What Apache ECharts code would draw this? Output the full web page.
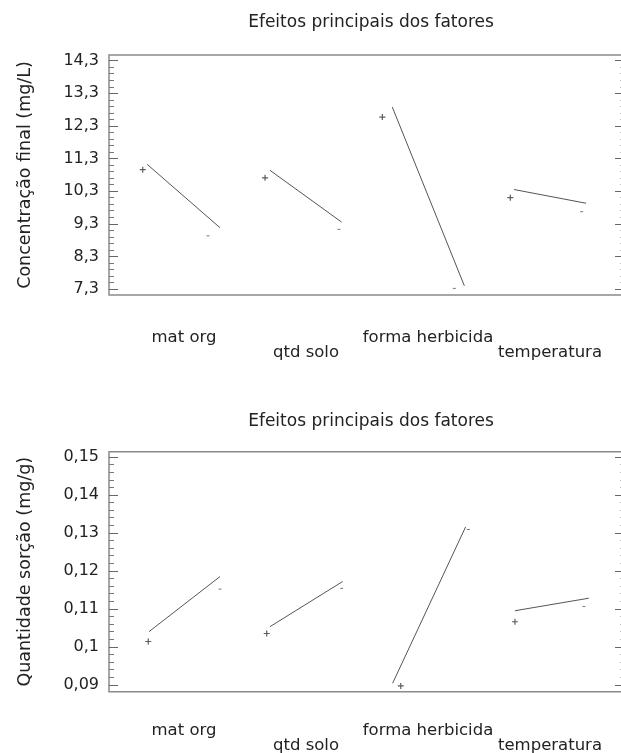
<!DOCTYPE html>
<html>
<head>
<meta charset="utf-8">
<script src="https://cdn.jsdelivr.net/npm/echarts@6/dist/echarts.min.js"></script>
<style>
  html, body { margin: 0; padding: 0; background: #fff; }
  #chart { width: 621px; height: 753px; }
</style>
</head>
<body>
<div id="chart"></div>
<script>
// ---------------- dados ----------------
var factors = ['mat org', 'qtd solo', 'forma herbicida', 'temperatura'];

// painel 1: Concentração final (mg/L)  [x, y]
var concLineStart = [[0.297, 11.12], [1.25, 10.94], [2.20, 12.88], [3.146, 10.35]];
var concLineEnd   = [[0.862, 9.18], [1.807, 9.35], [2.76, 7.40], [3.705, 9.93]];
var concPlus      = [[0.262, 10.96], [1.212, 10.71], [2.123, 12.57], [3.117, 10.10]];
var concMinus     = [[0.769, 8.93], [1.786, 9.13], [2.682, 7.32], [3.671, 9.67]];
var concTicks     = [7.3, 8.3, 9.3, 10.3, 11.3, 12.3, 13.3, 14.3];

// painel 2: Quantidade sorção (mg/g)
var sorpLineStart = [[0.311, 0.1040], [1.25, 0.1053], [2.203, 0.0904], [3.153, 0.1095]];
var sorpLineEnd   = [[0.862, 0.1185], [1.815, 0.1172], [2.770, 0.1316], [3.726, 0.1128]];
var sorpPlus      = [[0.305, 0.1014], [1.225, 0.1035], [2.266, 0.0897], [3.153, 0.1066]];
var sorpMinus     = [[0.862, 0.1152], [1.807, 0.1154], [2.791, 0.1309], [3.689, 0.1106]];
var sorpTicks     = [0.09, 0.10, 0.11, 0.12, 0.13, 0.14, 0.15];

// ---------------- estilos ----------------
var FONT = 'DejaVu Sans';
var TXT = '#222';
var plusPath = 'path://M2,0H3V2H5V3H3V5H2V3H0V2H2Z';
var minusPath = 'path://M0,0H4V1H0Z';

function minorOf(ticks, n) {
  var out = [];
  for (var i = 0; i < ticks.length - 1; i++) {
    var step = (ticks[i + 1] - ticks[i]) / n;
    for (var k = 1; k < n; k++) out.push(ticks[i] + step * k);
  }
  return out;
}

var grids = [], xAxes = [], yAxes = [], series = [], titles = [];

function panel(top, titleTop, labelMargin, name, min, max, ticks, dec, starts, ends, plus, minus) {
  var g0 = grids.length;
  grids.push({ left: 109, width: 515, top: top, height: 240, show: true, outerBoundsMode: 'none',
               borderColor: '#8a8a8a', borderWidth: 1.5, backgroundColor: 'transparent' });
  grids.push({ left: 123, width: 488, top: top, height: 240, outerBoundsMode: 'none' });

  var fmt = function (v) { return String(+v.toFixed(dec)).replace('.', ','); };
  var minor = minorOf(ticks, 5);
  var yBase = yAxes.length;

  yAxes.push({
    gridIndex: g0, type: 'value', position: 'left', min: min, max: max,
    name: name, nameLocation: 'middle', nameGap: 75,
    nameTextStyle: { fontFamily: FONT, fontSize: 17.5, color: TXT },
    axisLine: { show: false }, splitLine: { show: false },
    axisTick: { inside: true, length: 9, customValues: ticks, lineStyle: { color: '#666' } },
    axisLabel: { customValues: ticks, formatter: fmt, margin: 10,
                 fontFamily: FONT, fontSize: 16, color: TXT }
  });
  yAxes.push({
    gridIndex: g0, type: 'value', position: 'left', min: min, max: max,
    axisLine: { show: false }, splitLine: { show: false }, axisLabel: { show: false },
    axisTick: { inside: true, length: 5, customValues: minor, lineStyle: { color: '#777' } }
  });
  yAxes.push({
    gridIndex: g0, type: 'value', position: 'right', min: min, max: max,
    axisLine: { show: false }, splitLine: { show: false }, axisLabel: { show: false },
    axisTick: { inside: true, length: 9, customValues: ticks, lineStyle: { color: '#666' } }
  });
  yAxes.push({
    gridIndex: g0, type: 'value', position: 'right', min: min, max: max,
    axisLine: { show: false }, splitLine: { show: false }, axisLabel: { show: false },
    axisTick: { inside: true, length: 4, customValues: minor, lineStyle: { color: '#bbb' } }
  });
  yAxes.push({ gridIndex: g0 + 1, type: 'value', show: false });

  var xBase = xAxes.length;
  xAxes.push({ gridIndex: g0, type: 'value', min: 0, max: 4, show: false });
  xAxes.push({
    gridIndex: g0 + 1, type: 'category', data: factors,
    axisLine: { show: false }, axisTick: { show: false }, splitLine: { show: false },
    axisLabel: {
      margin: labelMargin, interval: 0,
      formatter: function (v, i) { return (i % 2 ? '{lo|' : '{hi|') + v + '}'; },
      rich: {
        hi: { fontFamily: FONT, fontSize: 16.5, color: TXT },
        lo: { fontFamily: FONT, fontSize: 16.5, color: TXT, padding: [15, 0, 0, 0] }
      }
    }
  });

  for (var i = 0; i < factors.length; i++) {
    series.push({
      type: 'line', xAxisIndex: xBase, yAxisIndex: yBase, data: [starts[i], ends[i]],
      symbol: 'none', silent: true, lineStyle: { color: '#555', width: 1 }
    });
  }
  series.push({
    type: 'scatter', xAxisIndex: xBase, yAxisIndex: yBase, data: plus,
    symbol: plusPath, symbolSize: [6, 6], itemStyle: { color: '#333' }
  });
  series.push({
    type: 'scatter', xAxisIndex: xBase, yAxisIndex: yBase, data: minus,
    symbol: minusPath, symbolSize: [3, 1], itemStyle: { color: '#555' }
  });

  titles.push({
    text: 'Efeitos principais dos fatores', left: 366, top: titleTop, textAlign: 'center',
    textStyle: { fontFamily: FONT, fontSize: 17, fontWeight: 'normal', color: TXT }
  });
}

panel(55, 9, 34, 'Concentração final (mg/L)', 7.117, 14.474, concTicks, 1,
      concLineStart, concLineEnd, concPlus, concMinus);
panel(451.7, 408, 31, 'Quantidade sorção (mg/g)', 0.08817, 0.1514, sorpTicks, 2,
      sorpLineStart, sorpLineEnd, sorpPlus, sorpMinus);

var option = {
  backgroundColor: '#fff',
  animation: false,
  title: titles,
  grid: grids,
  xAxis: xAxes,
  yAxis: yAxes,
  series: series
};

echarts.init(document.getElementById('chart'), null, { renderer: 'canvas' }).setOption(option);
</script>
</body>
</html>
